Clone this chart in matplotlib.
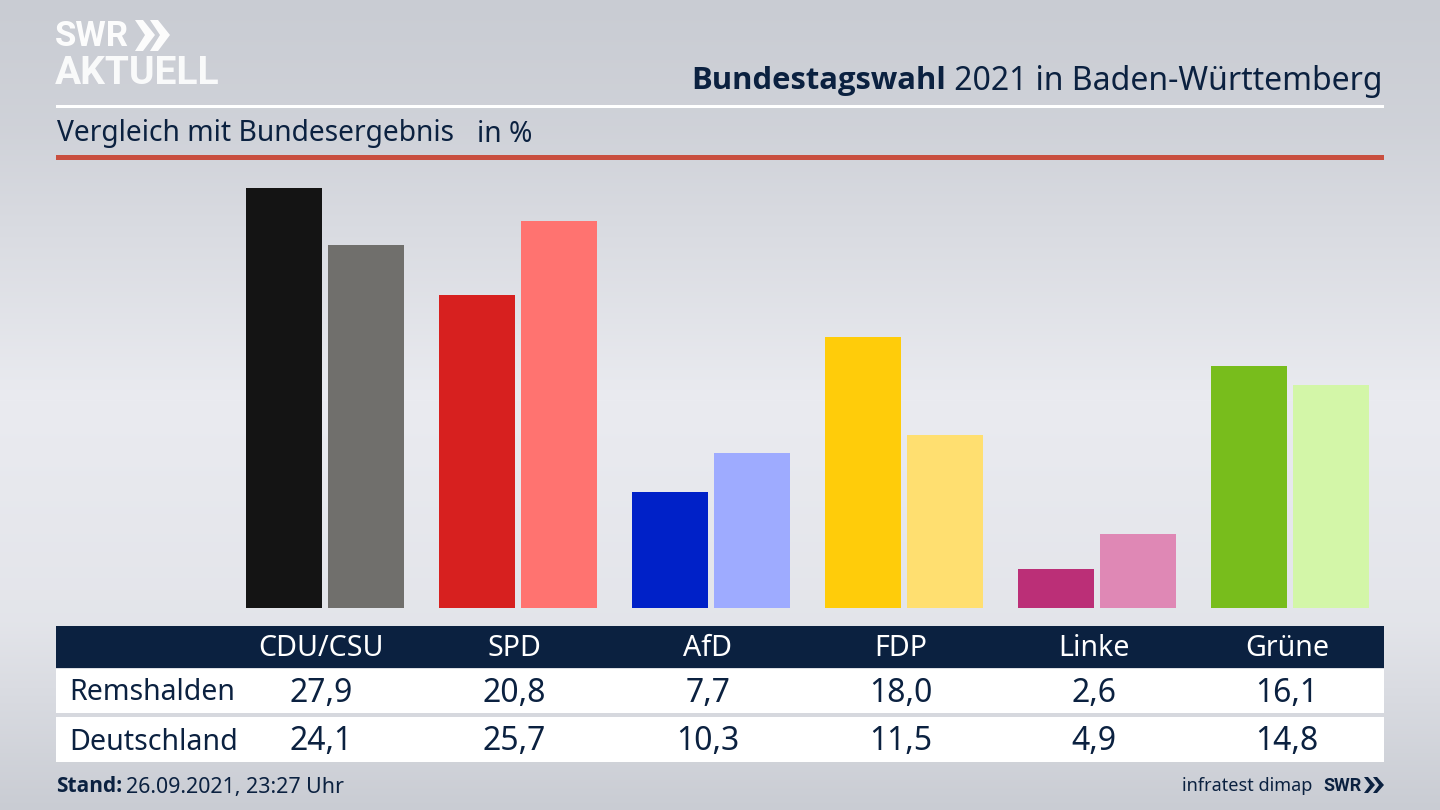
import numpy as np
import matplotlib
matplotlib.use('Agg')
import matplotlib.pyplot as plt
from matplotlib.patches import Rectangle, Polygon

plt.rcParams['font.family'] = ['Noto Sans', 'DejaVu Sans']

#data
parties = ['CDU/CSU', 'SPD', 'AfD', 'FDP', 'Linke', 'Grüne']
regions = ['Remshalden', 'Deutschland']
remshalden = [27.9, 20.8, 7.7, 18.0, 2.6, 16.1]
deutschland = [24.1, 25.7, 10.3, 11.5, 4.9, 14.8]
remshalden_labels = ['27,9', '20,8', '7,7', '18,0', '2,6', '16,1']
deutschland_labels = ['24,1', '25,7', '10,3', '11,5', '4,9', '14,8']
colors_dark = ['#141414', '#d7201f', '#0021c8', '#ffcc0a', '#bb2f77', '#78bd1c']
colors_light = ['#706f6c', '#ff7370', '#9eabff', '#ffdf70', '#df88b5', '#d3f6a8']

navy = '#0b2140'
bold_font = ['Open Sans', 'DejaVu Sans']
logo_font = ['Roboto', 'DejaVu Sans']

fig = plt.figure(figsize=(14.4, 8.1), dpi=100)

#background gradient, pixel coords for everything that is not a bar
bg = fig.add_axes([0, 0, 1, 1])
bg.set_xlim(0, 1440)
bg.set_ylim(810, 0)
bg.axis('off')
stops = np.interp(np.arange(810), [0, 130, 400, 620, 810], [0, 0.2, 1, 0.8, 0])
grad = np.zeros((810, 1, 3))
top = np.array([201, 204, 211]) / 255
mid = np.array([234, 235, 240]) / 255
for c in range(3):
    grad[:, 0, c] = top[c] + (mid[c] - top[c]) * stops
bg.imshow(grad, extent=[0, 1440, 810, 0], aspect='auto', zorder=0)

#header lines
bg.add_patch(Rectangle((56, 105), 1328, 2.5, color='white', lw=0))
bg.add_patch(Rectangle((56, 155), 1328, 5, color='#c94f3f', lw=0))

#logo
bg.text(55, 37, 'SWR', color='white', fontsize=25, fontweight='bold', family=logo_font, va='center', ha='left', alpha=0.95)
bg.text(55, 73, 'AKTUELL', color='white', fontsize=28, fontweight='bold', family=logo_font, va='center', ha='left', alpha=0.9)
for x0 in [135, 150]:
    bg.add_patch(Polygon([(x0, 20), (x0 + 8, 20), (x0 + 20, 35), (x0 + 8, 51), (x0, 51), (x0 + 10, 35)], color='white', lw=0, alpha=0.95))

#titles
tt = bg.text(1383, 81, ' 2021 in Baden-Württemberg', color=navy, fontsize=23, va='center', ha='right')
fig.canvas.draw()
ext = tt.get_window_extent()
bg.text(ext.x0, 81, 'Bundestagswahl', color=navy, fontsize=22.3, fontweight='bold', family=bold_font, va='center', ha='right')
bg.text(57, 134, 'Vergleich mit Bundesergebnis', color=navy, fontsize=20.3, va='center', ha='left')
bg.text(477, 134, 'in %', color=navy, fontsize=20.3, va='center', ha='left')

#table
bg.add_patch(Rectangle((56, 626), 1328, 42, color=navy, lw=0))
bg.add_patch(Rectangle((56, 669), 1328, 44, color='white', lw=0))
bg.add_patch(Rectangle((56, 717), 1328, 45, color='white', lw=0))
for i in range(len(parties)):
    cx = 321.5 + 193.1 * i
    bg.text(cx, 649, parties[i], color='white', fontsize=20.6, va='center', ha='center')
    bg.text(cx, 693, remshalden_labels[i], color=navy, fontsize=23, va='center', ha='center')
    bg.text(cx, 742, deutschland_labels[i], color=navy, fontsize=23, va='center', ha='center')
bg.text(69.5, 693, regions[0], color=navy, fontsize=20.5, va='center', ha='left')
bg.text(69.5, 742, regions[1], color=navy, fontsize=20.6, va='center', ha='left')

#footer
st = bg.text(56, 787, 'Stand:', color=navy, fontsize=15, fontweight='bold', family=bold_font, va='center', ha='left')
fig.canvas.draw()
bg.text(st.get_window_extent().x1 + 4, 787, '26.09.2021, 23:27 Uhr', color=navy, fontsize=15.4, va='center', ha='left')
bg.text(1312, 786, 'infratest dimap', color=navy, fontsize=13, va='center', ha='right')
bg.text(1323, 786, 'SWR', color=navy, fontsize=13, fontweight='bold', family=logo_font, va='center', ha='left')
for x0 in [1364, 1373]:
    bg.add_patch(Polygon([(x0, 777), (x0 + 4, 777), (x0 + 11, 785), (x0 + 4, 793), (x0, 793), (x0 + 6, 785)], color=navy, lw=0))

#bars, 193 px per party, 15.06 px per percent
ax = fig.add_axes([56 / 1440, (810 - 608) / 810, 1328 / 1440, 448 / 810])
ax.patch.set_alpha(0)
ax.set_xlim((56 - 325) / 193, (1384 - 325) / 193)
ax.set_ylim(0, 448 / 15.06)
ax.axis('off')
x = np.arange(len(parties))
ax.bar(x - 0.2124, remshalden, width=0.398, color=colors_dark)
ax.bar(x + 0.2124, deutschland, width=0.398, color=colors_light)

plt.savefig('out.png', dpi=100)
